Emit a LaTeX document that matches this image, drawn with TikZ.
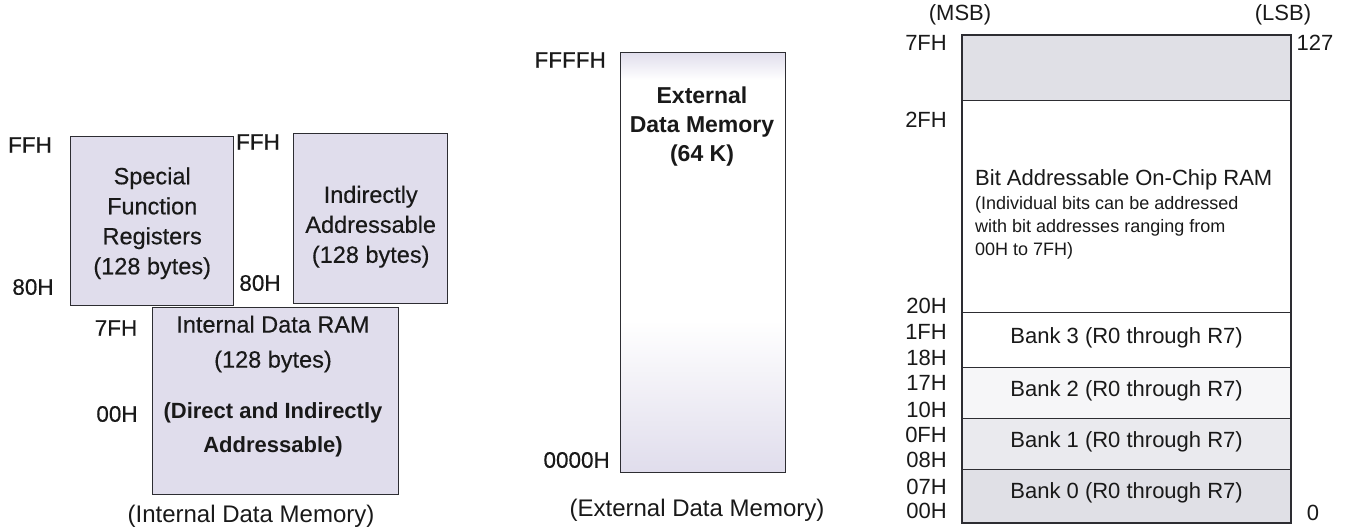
\documentclass[tikz,border=0pt]{standalone}
\usepackage{fontspec}
\setmainfont{Liberation Sans}
\newfontfamily\medfont[FakeBold=0.35]{Liberation Sans}
\definecolor{lineclr}{RGB}{45,45,50}
\definecolor{txt}{RGB}{25,25,25}
\definecolor{lavA}{RGB}{224,221,236}
\definecolor{lavB}{RGB}{247,246,251}
\definecolor{grayA}{RGB}{224,224,230}
\definecolor{grayB}{RGB}{234,234,238}
\definecolor{grayC}{RGB}{246,246,248}
\begin{document}
\begin{tikzpicture}[x=1pt,y=-1pt,
  box/.style={draw=lineclr, line width=1.4pt, anchor=north west, inner sep=0pt},
  shadebox/.style={top color=lavA, middle color=lavB, bottom color=lavA},
  lbl/.style={font=\fontsize{22}{26}\selectfont, inner sep=0pt, text=txt},
  medlbl/.style={font=\medfont\fontsize{22.5}{26}\selectfont, inner sep=0pt, text=txt},
  captext/.style={font=\fontsize{24}{28}\selectfont, inner sep=0pt, text=txt},
  boxtext/.style={font=\medfont\fontsize{23.5}{30}\selectfont, align=center, inner sep=0pt, text=txt},
  smalltext/.style={font=\fontsize{18}{23}\selectfont, align=left, inner sep=0pt, text=txt},
  region/.style={draw=lineclr, line width=1.2pt, anchor=north west, inner sep=0pt, minimum width=328pt},
  ]
\useasboundingbox (0,0) rectangle (1348,531);

% ---------- Internal data memory ----------
\node[box, shadebox, minimum width=163pt, minimum height=169pt] (sfr) at (70,136) {};
\node[box, shadebox, minimum width=154pt, minimum height=170pt] (ind) at (293,133) {};
\node[box, shadebox, minimum width=246pt, minimum height=187pt] (iram) at (152,307) {};

\node[boxtext] (sfrT) at ([yshift=-2pt]sfr.center) {Special\\Function\\Registers\\(128 bytes)};
\node[boxtext] (indT) at ([yshift=-8pt]ind.center) {Indirectly\\Addressable\\(128 bytes)};
\node[boxtext, font=\medfont\fontsize{23.5}{35}\selectfont] (iramT) at (273,344) {Internal Data RAM\\(128 bytes)};
\node[boxtext, font=\fontsize{22}{34}\selectfont\bfseries] (iramB) at (273,430) {(Direct and Indirectly\\Addressable)};

\node[medlbl] (ffh1) at (30,145) {FFH};
\node[medlbl] (h80a) at (33,287) {80H};
\node[medlbl] (ffh2) at (258,142) {FFH};
\node[medlbl] (h80b) at (260,283) {80H};
\node[medlbl] (h7fa) at (116,328) {7FH};
\node[medlbl] (h00a) at (117,414) {00H};
\node[captext] (capI) at (251,516) {(Internal Data Memory)};

% ---------- External data memory ----------
\coordinate (extNW) at (620,52);
\coordinate (extSE) at (785,472);
\fill[white] (extNW) rectangle (extSE);
\shade[top color=lavA, bottom color=white] (620,52) rectangle (785,80);
\shade[top color=white, bottom color=lavA] (620,320) rectangle (785,472);
\node[box, minimum width=165pt, minimum height=420pt] (ext) at (extNW) {};
\node[boxtext, font=\fontsize{23}{29}\selectfont\bfseries] (extT) at (702,127) {External\\Data Memory\\(64 K)};
\node[medlbl, anchor=east] (ffffh) at (606,60) {FFFFH};
\node[medlbl, anchor=east] (h0000) at (610,460) {0000H};
\node[captext] (capE) at (697,510) {(External Data Memory)};

% ---------- Bit addressable / register banks ----------
\node[region, fill=grayA, minimum height=65pt] (top) at (962,35) {};
\node[region, fill=white, minimum height=212pt] (bitram) at (962,100) {};
\node[region, fill=white, minimum height=55pt] (bank3) at (962,312) {};
\node[region, fill=grayC, minimum height=51pt] (bank2) at (962,367) {};
\node[region, fill=grayB, minimum height=51pt] (bank1) at (962,418) {};
\node[region, fill=grayA, minimum height=53pt] (bank0) at (962,469) {};
\draw[draw=lineclr, line width=1.4pt] (top.north west) rectangle (bank0.south east);

\node[lbl, anchor=west] (bitT) at (975,180) {Bit Addressable On-Chip RAM};
\node[smalltext, anchor=north west] (bitS) at (975,196) {(Individual bits can be addressed\\with bit addresses ranging from\\00H to 7FH)};

\node[lbl] (b3) at ([yshift=2pt]bank3.center) {Bank 3 (R0 through R7)};
\node[lbl] (b2) at ([yshift=2pt]bank2.center) {Bank 2 (R0 through R7)};
\node[lbl] (b1) at ([yshift=2pt]bank1.center) {Bank 1 (R0 through R7)};
\node[lbl] (b0) at ([yshift=3pt]bank0.center) {Bank 0 (R0 through R7)};

\node[lbl] (msb) at (960,15) {(MSB)};
\node[lbl] (lsb) at (1283,15) {(LSB)};
\node[lbl] (n127) at (1315,43) {127};
\node[lbl] (n0) at (1313,513) {0};

\node[lbl, anchor=east] (r7f) at (947,43) {7FH};
\node[lbl, anchor=east] (r2f) at (947,120) {2FH};
\node[lbl, anchor=east] (r20) at (947,306) {20H};
\node[lbl, anchor=east] (r1f) at (947,332) {1FH};
\node[lbl, anchor=east] (r18) at (947,358) {18H};
\node[lbl, anchor=east] (r17) at (947,383) {17H};
\node[lbl, anchor=east] (r10) at (947,410) {10H};
\node[lbl, anchor=east] (r0f) at (947,435) {0FH};
\node[lbl, anchor=east] (r08) at (947,460) {08H};
\node[lbl, anchor=east] (r07) at (947,487) {07H};
\node[lbl, anchor=east] (r00) at (947,511) {00H};
\end{tikzpicture}
\end{document}
